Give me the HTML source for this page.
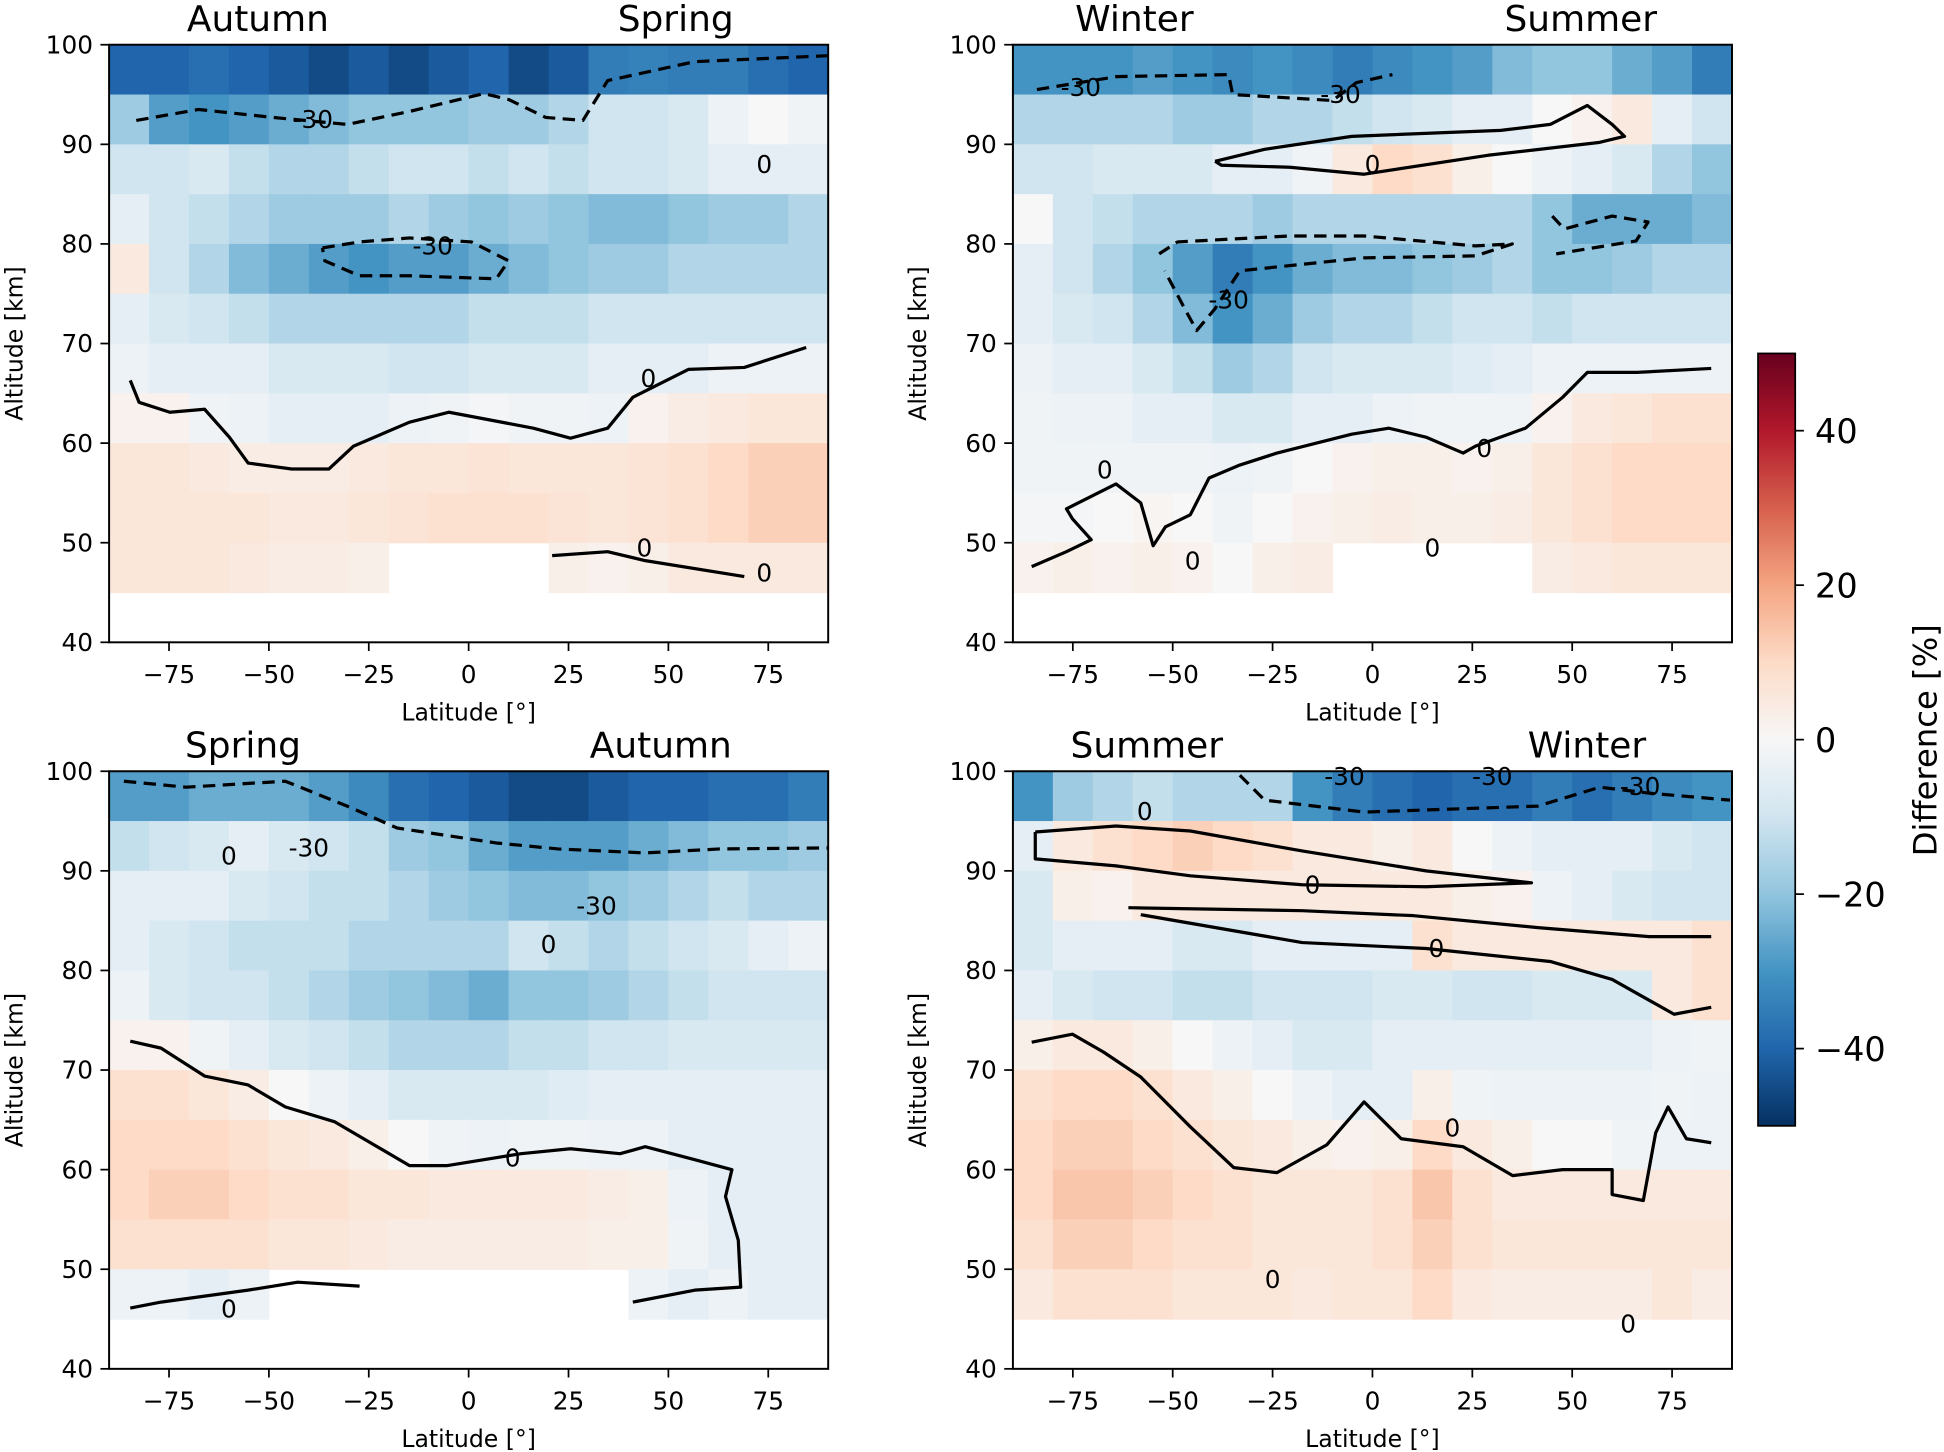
<!DOCTYPE html>
<html><head><meta charset="utf-8"><style>
html,body{margin:0;padding:0;background:#fff;}
svg{display:block;font-family:"DejaVu Sans","Liberation Sans",sans-serif;}
</style></head><body>
<svg id="fig" width="1944" height="1452" viewBox="0 0 1568 1171" xmlns="http://www.w3.org/2000/svg">
<defs>
<linearGradient id="cbgrad" x1="0" y1="1" x2="0" y2="0">
<stop offset="0" stop-color="#053061"/><stop offset="0.1" stop-color="#2166ac"/><stop offset="0.2" stop-color="#4393c3"/><stop offset="0.3" stop-color="#92c5de"/><stop offset="0.4" stop-color="#d1e5f0"/><stop offset="0.5" stop-color="#f7f7f7"/><stop offset="0.6" stop-color="#fddbc7"/><stop offset="0.7" stop-color="#f4a582"/><stop offset="0.8" stop-color="#d6604d"/><stop offset="0.9" stop-color="#b2182b"/><stop offset="1" stop-color="#67001f"/>
</linearGradient>
</defs>
</svg>
<script>
// ---- data ----
const latEdges=[-90,-80,-70,-60,-50,-40,-30,-20,-10,0,10,20,30,40,50,60,70,80,90];
const altRows=[95,90,85,80,75,70,65,60,55,50,45,40]; // lower edge of each 5 km row (top to bottom)
const N=null;
const tlValues=[
[-40,-40,-38,-40,-42,-45,-42,-45,-42,-40,-45,-42,-35,-34,-35,-35,-38,-40],
[-18,-28,-30,-28,-25,-22,-20,-20,-20,-18,-18,-15,-10,-10,-8,-3,0,-2],
[-10,-10,-8,-12,-15,-15,-12,-10,-10,-12,-10,-12,-10,-10,-8,-5,-5,-5],
[-5,-10,-12,-15,-18,-18,-18,-15,-18,-20,-18,-20,-22,-22,-20,-18,-18,-15],
[5,-10,-15,-22,-25,-28,-30,-28,-28,-25,-22,-20,-18,-18,-15,-15,-15,-15],
[-5,-8,-10,-12,-15,-15,-15,-15,-15,-12,-12,-12,-10,-10,-10,-10,-10,-10],
[-3,-5,-5,-5,-8,-8,-8,-10,-10,-8,-8,-8,-5,-5,-5,-3,-3,-3],
[2,2,-2,-3,-5,-5,-5,-3,-2,-1,-2,-2,-3,2,4,5,6,6],
[6,6,5,4,4,4,5,6,6,7,6,6,6,7,8,10,12,12],
[6,6,6,6,5,5,6,7,8,8,8,7,6,7,8,10,12,12],
[6,6,6,5,4,4,3,N,N,N,N,3,2,3,5,5,5,5],
[N,N,N,N,N,N,N,N,N,N,N,N,N,N,N,N,N,N]];
const trValues=[
[-30,-30,-30,-28,-30,-32,-30,-32,-35,-32,-30,-28,-22,-20,-20,-25,-28,-35],
[-15,-15,-15,-15,-18,-18,-15,-15,-12,-10,-8,-5,-5,0,2,5,-5,-10],
[-10,-10,-8,-8,-8,-5,-5,-2,5,10,8,3,0,-3,-5,-8,-15,-20],
[0,-10,-12,-15,-15,-15,-18,-15,-15,-15,-15,-15,-15,-20,-25,-25,-25,-22],
[-5,-10,-15,-20,-28,-35,-30,-25,-22,-22,-20,-18,-15,-20,-20,-18,-15,-15],
[-5,-8,-10,-15,-22,-30,-25,-18,-15,-15,-12,-10,-10,-12,-10,-10,-10,-10],
[-3,-5,-5,-8,-12,-18,-15,-10,-8,-8,-8,-6,-5,-3,-3,-3,-3,-3],
[-2,-3,-3,-5,-5,-8,-8,-5,-5,-3,-2,-2,-2,2,5,6,8,8],
[-2,-2,-2,-2,-2,-3,-2,0,2,3,3,2,3,6,8,10,10,10],
[-1,-1,0,1,0,-2,0,2,3,4,3,3,4,6,8,10,10,10],
[2,3,2,3,2,0,3,4,N,N,N,N,N,4,5,6,6,6],
[N,N,N,N,N,N,N,N,N,N,N,N,N,N,N,N,N,N]];
const blValues=[
[-28,-28,-25,-25,-25,-28,-32,-38,-40,-42,-45,-45,-42,-40,-40,-38,-38,-35],
[-12,-10,-8,-5,-8,-10,-12,-18,-20,-25,-28,-28,-28,-25,-22,-20,-20,-18],
[-5,-5,-5,-8,-10,-12,-12,-15,-18,-20,-22,-22,-20,-18,-15,-12,-15,-15],
[-5,-8,-10,-12,-12,-12,-15,-15,-15,-15,-10,-12,-15,-12,-10,-8,-5,-3],
[-3,-8,-10,-10,-12,-15,-18,-20,-22,-25,-20,-20,-18,-15,-12,-10,-10,-10],
[2,2,-2,-5,-8,-10,-12,-15,-15,-15,-12,-12,-10,-10,-8,-8,-8,-8],
[8,8,6,4,0,-3,-5,-8,-8,-8,-8,-6,-5,-5,-5,-5,-5,-5],
[10,10,10,8,6,5,3,0,-2,-3,-2,-2,-3,-3,-5,-5,-5,-5],
[10,12,12,10,8,8,6,6,5,5,5,5,4,3,-3,-5,-5,-5],
[8,8,8,8,6,6,5,4,4,4,4,4,3,3,-2,-5,-5,-5],
[-3,-3,-5,-3,N,N,N,N,N,N,N,N,N,-3,-5,-3,-5,-5],
[N,N,N,N,N,N,N,N,N,N,N,N,N,N,N,N,N,N]];
const brValues=[
[-30,-18,-15,-12,-15,-15,-15,-30,-35,-38,-40,-38,-38,-35,-38,-35,-32,-30],
[-5,5,8,10,12,10,8,5,5,3,5,0,-3,-5,-5,-5,-8,-10],
[-8,3,2,5,5,5,5,5,5,5,5,3,2,-3,-5,-8,-10,-10],
[-8,-5,-5,-5,-8,-8,-5,-5,-5,-5,8,5,5,5,5,5,5,8],
[-5,-8,-10,-10,-12,-12,-10,-10,-10,-8,-8,-10,-10,-8,-8,-8,5,8],
[3,5,5,3,0,-3,-5,-8,-8,-5,-5,-5,-5,-5,-5,-5,-3,-2],
[8,10,10,8,5,3,0,-3,-5,-5,3,-2,-3,-3,-3,-3,-2,-3],
[10,12,12,10,8,6,5,3,2,3,10,5,3,0,0,-2,-3,-3],
[10,14,14,12,10,8,6,6,6,8,14,8,5,5,5,5,5,5],
[8,12,12,10,8,8,6,6,6,8,12,8,6,6,6,6,6,6],
[5,8,8,8,6,6,6,5,6,6,10,5,4,4,4,4,6,4],
[N,N,N,N,N,N,N,N,N,N,N,N,N,N,N,N,N,N]];
// contours: [lat, alt]
const tlZero=[[-84.7,66.3],[-82.5,64.1],[-74.8,63.1],[-66.1,63.4],[-59.9,60.6],[-55.2,58.0],[-44.3,57.4],[-35.0,57.4],[-28.8,59.7],[-14.8,62.1],[-4.9,63.1],[16.2,61.5],[25.5,60.5],[34.8,61.5],[41.1,64.6],[55.0,67.4],[69.0,67.6],[84.5,69.6]];
const tlZero2=[[20.9,48.7],[34.8,49.1],[44.2,48.2],[69.0,46.6]];
const tlNeg30=[[-83.2,92.4],[-67.6,93.5],[-49.0,92.7],[-30.4,92.0],[-14.8,93.3],[3.8,95.1],[10.0,94.5],[19.3,92.7],[28.6,92.4],[34.8,96.4],[56.6,98.3],[90,98.9]];
const tlNeg30b=[[-36.6,79.6],[-27.3,80.2],[-14.8,80.6],[0.7,80.2],[10.0,78.3],[6.9,76.5],[-14.8,76.8],[-27.3,76.8],[-36.0,78.3],[-36.6,79.6]];
const trZero=[[-85.3,47.6],[-76.6,49.1],[-70.4,50.3],[-75.1,52.4],[-76.6,53.4],[-64.2,55.9],[-58.0,54.0],[-54.9,49.7],[-51.8,51.6],[-45.6,52.8],[-40.9,56.5],[-33.2,57.8],[-23.9,59.0],[-5.2,60.9],[4.1,61.5],[13.4,60.6],[22.7,59.0],[25.8,59.7],[38.3,61.5],[47.6,64.6],[53.8,67.1],[66.2,67.1],[84.8,67.5]];
const trZero2=[[-39.4,88.3],[-27.0,89.5],[-5.2,90.8],[32.1,91.4],[44.5,92.0],[53.8,93.9],[60.0,92.0],[63.1,90.8],[56.9,90.2],[28.9,88.9],[-2.1,87.0],[-20.7,87.7],[-37.8,87.9],[-39.4,88.3]];
const trNeg30=[[-53.4,79.0],[-48.8,80.2],[-20.7,80.8],[-2.1,80.8],[25.8,79.8],[35,80],[25.8,78.8],[-2.1,78.6],[-33.2,77.3],[-39.4,73.5],[-44,71.3],[-47,73.5],[-52,77.3]];
const trNeg30b=[[-84,95.5],[-64,96.8],[-36,97],[-35,95],[-10,94.4],[-4,96.2],[5,97]];
const trNeg30c=[[45,82.8],[48,81.5],[60,82.8],[69,82.2],[66,80.3],[46,79]];
const blZero=[[-84.7,72.9],[-77,72.2],[-66.1,69.4],[-55.2,68.5],[-45.9,66.3],[-33.5,64.8],[-14.8,60.4],[-5.5,60.4],[13.1,61.6],[25.5,62.1],[37.9,61.6],[44.2,62.3],[56.6,61.0],[65.9,60.0],[64.3,57.3],[67.5,52.9],[68.1,48.2],[56.6,47.9],[41.1,46.7]];
const blZero2=[[-27.3,48.3],[-42.8,48.7],[-55.2,47.9],[-77,46.7],[-84.7,46.1]];
const blNeg30=[[-86.3,99.0],[-70.7,98.4],[-45.9,99.0],[-30.4,96.5],[-17.9,94.3],[6.9,92.8],[22.4,92.2],[44.2,91.8],[62.8,92.2],[90,92.3]];
const brZero=[[-85.3,72.8],[-75.1,73.6],[-67.3,71.8],[-58.0,69.3],[-45.6,64.3],[-34.7,60.2],[-23.9,59.7],[-11.4,62.5],[-2.1,66.8],[7.2,63.1],[22.7,62.3],[35.1,59.4],[47.6,60.0],[60.0,60.0],[60.0,57.5],[67.8,56.9],[70.9,63.7],[74.0,66.3],[78.6,63.1],[84.8,62.7]];
const brZero2=[[-61.1,86.3],[-17.6,86.0],[10.3,85.5],[41.4,84.3],[69.3,83.4],[84.8,83.4]];
const brZero3=[[-58.0,85.6],[-17.6,82.8],[13.4,82.2],[44.5,80.9],[60.0,79.1],[75.5,75.6],[84.8,76.3]];
const brZero4=[[-84.4,93.9],[-64.2,94.5],[-45.6,94.0],[-17.6,92.0],[13.4,90.0],[39.8,88.8],[13.4,88.4],[-17.6,88.6],[-45.6,89.5],[-64.2,90.5],[-84.4,91.2],[-84.4,93.9]];
const brNeg30=[[-33.2,99.6],[-27,97.1],[-2.1,95.9],[41.4,96.5],[56.9,98.4],[69.3,97.8],[89.5,97.1]];
const xTicks=[-75,-50,-25,0,25,50,75];
const yTicks=[40,50,60,70,80,90,100];
const cbTicks=[-40,-20,0,20,40];

const NS="http://www.w3.org/2000/svg";
const svg=document.getElementById('fig');
function el(tag,attrs,parent){const e=document.createElementNS(NS,tag);for(const k in attrs)e.setAttribute(k,attrs[k]);(parent||svg).appendChild(e);return e;}
const stops=[[-50,[5,48,97]],[-40,[33,102,172]],[-30,[67,147,195]],[-20,[146,197,222]],[-10,[209,229,240]],[0,[247,247,247]],[10,[253,219,199]],[20,[244,165,130]],[30,[214,96,77]],[40,[178,24,43]],[50,[103,0,31]]];
function cmap(v){v=Math.max(-50,Math.min(50,v));for(let i=0;i<stops.length-1;i++){const a=stops[i],b=stops[i+1];if(v<=b[0]){const t=(v-a[0])/(b[0]-a[0]);const c=a[1].map((x,j)=>Math.round(x+(b[1][j]-x)*t));return `rgb(${c[0]},${c[1]},${c[2]})`;}}return 'rgb(103,0,31)';}

function panel(name,x0,y0,values,contours,labels,titles){
  const W=580,H=482;
  const sx=l=>x0+(l+90)/180*W, sy=a=>y0+(100-a)/60*H;
  const g=el('g',{});
  
  
  const hm=el('g',{},g);
  
  
  values.forEach((row,r)=>row.forEach((v,c)=>{
    if(v===null)return;
    const rc=el('rect',{x:sx(latEdges[c]),y:sy(altRows[r]+5),width:sx(latEdges[c+1])-sx(latEdges[c])+0.5,height:sy(altRows[r])-sy(altRows[r]+5)+0.5,fill:cmap(v)},hm);
    
    
  }));
  contours.forEach(([pts,dashed])=>{
    const p=el('polyline',{points:pts.map(q=>sx(q[0])+','+sy(q[1])).join(' '),fill:'none',stroke:'#000','stroke-width':2.6,'stroke-dasharray':dashed?'10,6':'none','stroke-linejoin':'round'},g);
    
    
  });
  labels.forEach(([l,a,t])=>{
    const tx=el('text',{x:sx(l),y:sy(a)+7,'font-size':20,'text-anchor':'middle',fill:'#000'},g);
    tx.textContent=t;
    
    
  });
  const fr=el('rect',{x:x0,y:y0,width:W,height:H,fill:'none',stroke:'#000','stroke-width':1.6},g);
  
  
  xTicks.forEach(t=>{
    el('line',{x1:sx(t),x2:sx(t),y1:y0+H,y2:y0+H+7,stroke:'#000','stroke-width':1.4},g);
    const tx=el('text',{x:sx(t),y:y0+H+33,'font-size':20,'text-anchor':'middle'},g);
    tx.textContent=t<0?'\u2212'+(-t):String(t);
    
    
  });
  yTicks.forEach(t=>{
    el('line',{x1:x0-7,x2:x0,y1:sy(t),y2:sy(t),stroke:'#000','stroke-width':1.4},g);
    const tx=el('text',{x:x0-13,y:sy(t)+7,'font-size':20,'text-anchor':'end'},g);
    tx.textContent=String(t);
    
    
  });
  const xl=el('text',{x:x0+290,y:y0+H+63,'font-size':19,'text-anchor':'middle'},g);
  xl.textContent='Latitude [°]';
  
  
  const yl=el('text',{x:0,y:0,'font-size':19,'text-anchor':'middle',transform:`translate(${x0-70},${y0+241}) rotate(-90)`},g);
  yl.textContent='Altitude [km]';
  
  
  titles.forEach(([x,t])=>{
    const tx=el('text',{x:x,y:y0-11,'font-size':29,'text-anchor':'middle'},g);
    tx.textContent=t;
    
    
  });
}
panel('panel-top-left',88,36,tlValues,[[tlZero,false],[tlZero2,false],[tlNeg30,true],[tlNeg30b,true]],[[45,66.5,'0'],[44,49.5,'0'],[74,47,'0'],[-39,92.5,'-30'],[-9,79.8,'-30'],[74,88,'0']],[[208,'Autumn'],[545,'Spring']]);
panel('panel-top-right',817,36,trValues,[[trZero,false],[trZero2,false],[trNeg30,true],[trNeg30b,true],[trNeg30c,true]],[[-73,95.7,'-30'],[-67,57.3,'0'],[28,59.5,'0'],[-36,74.4,'-30'],[-8,95,'-30'],[15,49.5,'0'],[-45,48.2,'0'],[0,88,'0']],[[915,'Winter'],[1275,'Summer']]);
panel('panel-bottom-left',88,622,blValues,[[blZero,false],[blZero2,false],[blNeg30,true]],[[11,61.2,'0'],[-60,46,'0'],[-40,92.3,'-30'],[-60,91.5,'0'],[20,82.6,'0'],[32,86.5,'-30']],[[196,'Spring'],[533,'Autumn']]);
panel('panel-bottom-right',817,622,brValues,[[brZero,false],[brZero2,false],[brZero3,false],[brZero4,false],[brNeg30,true]],[[20,64.2,'0'],[-57,96,'0'],[-15,88.6,'0'],[16,82.2,'0'],[-25,49,'0'],[-7,99.5,'-30'],[30,99.5,'-30'],[67,98.5,'-30'],[64,44.5,'0']],[[925,'Summer'],[1280,'Winter']]);

// colorbar
const cb=el('g',{});


el('rect',{x:1418,y:285,width:30,height:623,fill:'url(#cbgrad)',stroke:'#000','stroke-width':1.4},cb);
cbTicks.forEach(t=>{
  const y=285+(50-t)/100*623;
  el('line',{x1:1448,x2:1455,y1:y,y2:y,stroke:'#000','stroke-width':1.4},cb);
  const tx=el('text',{x:1464,y:y+10,'font-size':27},cb);
  tx.textContent=t<0?'\u2212'+(-t):String(t);
  
  
});
const ct=el('text',{x:0,y:0,'font-size':26,'text-anchor':'middle',transform:'translate(1562,597) rotate(-90)'},cb);
ct.textContent='Difference [%]';


</script>
</body></html>
